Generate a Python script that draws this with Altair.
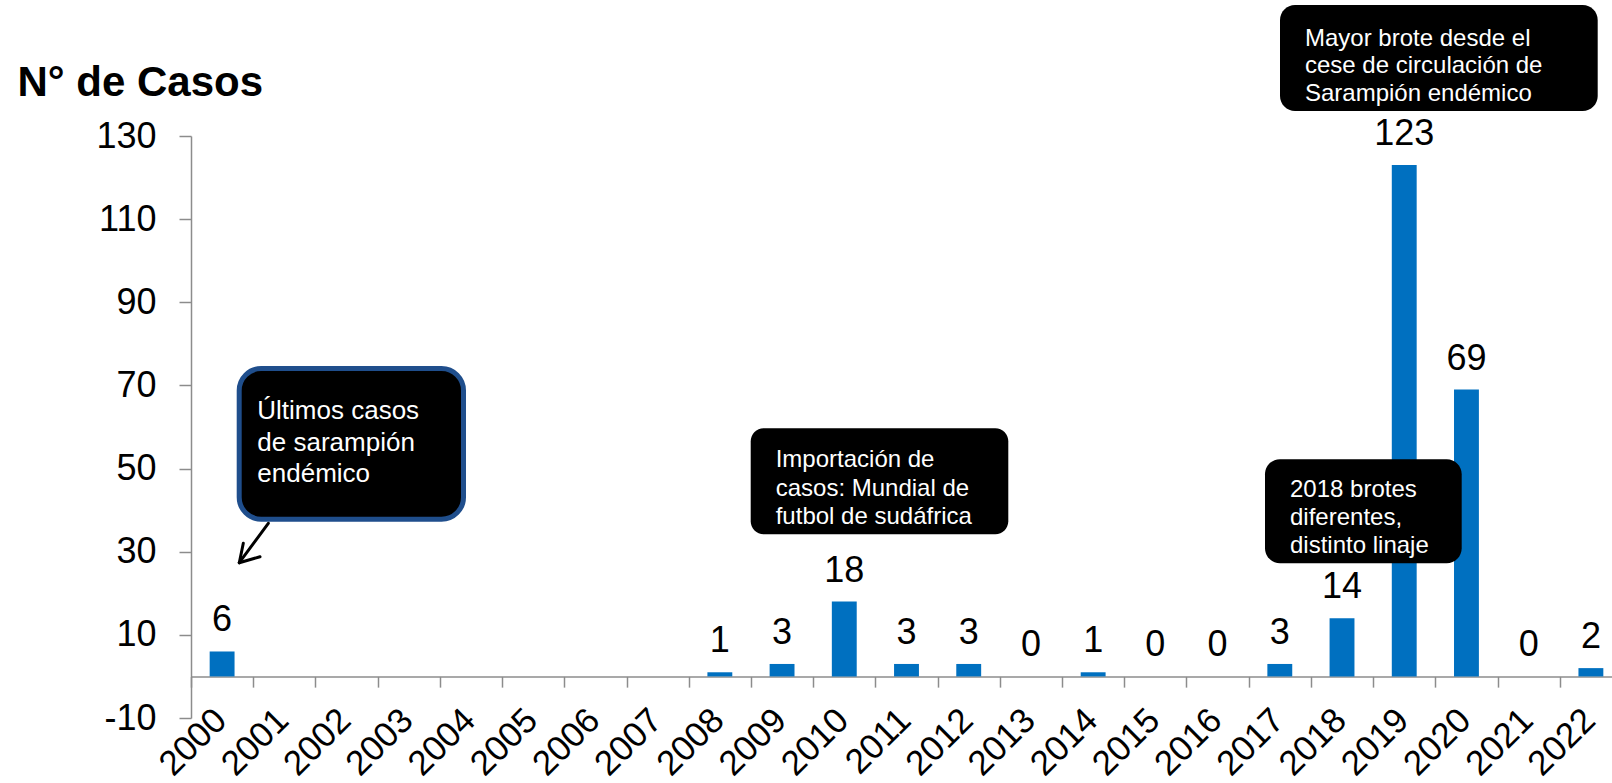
import altair as alt
import pandas as pd

# ---- data -------------------------------------------------------------
years = ["2000", "2001", "2002", "2003", "2004", "2005", "2006", "2007",
         "2008", "2009", "2010", "2011", "2012", "2013", "2014", "2015",
         "2016", "2017", "2018", "2019", "2020", "2021", "2022"]
# no reported value for 2001-2007
cases = [6, None, None, None, None, None, None, None,
         1, 3, 18, 3, 3, 0, 1, 0,
         0, 3, 14, 123, 69, 0, 2]

y_ticks = [-10, 10, 30, 50, 70, 90, 110, 130]

note_endemic = ["Últimos casos", "de sarampión", "endémico"]
note_import = ["Importación de", "casos: Mundial de", "futbol de sudáfrica"]
note_2018 = ["2018 brotes", "diferentes,", "distinto linaje"]
note_2019 = ["Mayor brote desde el", "cese de circulación de", "Sarampión endémico"]

df = pd.DataFrame({"year": years, "cases": cases})
one_row = pd.DataFrame({"k": [0]})

# ---- style / layout ----------------------------------------------------
FONT = "Liberation Sans, Arial, Helvetica, sans-serif"
AXIS_GREY = "#8c8c8c"
BAR_BLUE = "#0070C0"
BORDER_BLUE = "#1f4e8c"

PAD_LEFT, PAD_TOP = 191, 136
PLOT_W, PLOT_H = 1421, 582
X_RANGE = 1431            # category axis runs a little past the right edge
STEP = X_RANGE / len(years)

x_enc = alt.X(
    "year:N",
    sort=years,
    scale=alt.Scale(range=[0, X_RANGE], paddingInner=0.6, paddingOuter=0.3),
    axis=alt.Axis(
        title=None,
        labelAngle=-45,
        labelAlign="right",
        labelBaseline="top",
        labelFontSize=35,
        labelColor="black",
        labelPadding=15,
        labelOverlap=False,
        tickSize=10.7,
        tickWidth=1.5,
        tickColor=AXIS_GREY,
        tickOffset=-STEP / 2,
        labelOffset=STEP / 2 - 14,
        domainColor=AXIS_GREY,
        domainWidth=1.5,
        offset=-PLOT_H * 10 / 140,   # axis line sits at zero
    ),
)

y_enc = alt.Y(
    "cases:Q",
    scale=alt.Scale(domain=[-10, 130], nice=False, zero=False),
    axis=alt.Axis(
        values=y_ticks,
        labelExpr="'' + datum.value",
        grid=False,
        labelFontSize=36,
        labelColor="black",
        labelPadding=23,
        tickSize=12,
        tickWidth=1.5,
        tickColor=AXIS_GREY,
        domainColor=AXIS_GREY,
        domainWidth=1.5,
        title="N° de Casos",
        titleAngle=0,
        titleAlign="left",
        titleBaseline="alphabetic",
        titleX=-174,
        titleY=-41,
        titleFontSize=42,
        titleFontWeight="bold",
        titleColor="black",
    ),
)

base = alt.Chart(df)

bars = base.mark_bar(color=BAR_BLUE).encode(x=x_enc, y=y_enc, y2=alt.datum(0))

value_labels = base.transform_filter("isValid(datum.cases)").mark_text(
    dy=-20, baseline="alphabetic", align="center", fontSize=36, font=FONT, color="black"
).encode(
    x=alt.X("year:N", sort=years),
    y=alt.Y("cases:Q"),
    text=alt.Text("cases:Q", format="d"),
)


def callout_box(x0, y0, x1, y1, radius, stroke=None, stroke_width=0):
    kwargs = dict(color="black", cornerRadius=radius)
    if stroke:
        kwargs.update(stroke=stroke, strokeWidth=stroke_width)
    return alt.Chart(one_row).mark_rect(**kwargs).encode(
        x=alt.value(x0), x2=alt.value(x1), y=alt.value(y0), y2=alt.value(y1)
    )


def callout_text(x, y, lines, size, line_height):
    return alt.Chart(one_row).mark_text(
        align="left", baseline="alphabetic", fontSize=size, lineHeight=line_height,
        font=FONT, color="white"
    ).encode(x=alt.value(x), y=alt.value(y), text=alt.value(lines))


def segment(x0, y0, x1, y1):
    return alt.Chart(one_row).mark_rule(color="black", strokeWidth=3, strokeCap="round").encode(
        x=alt.value(x0), y=alt.value(y0), x2=alt.value(x1), y2=alt.value(y1)
    )


layers = [
    bars,
    value_labels,
    # last endemic cases (2000)
    callout_box(48.2, 232.5, 272.5, 383.2, 22, BORDER_BLUE, 5),
    callout_text(66.3, 283, note_endemic, 26, 31.6),
    segment(77.3, 387.3, 48.3, 426.7),
    segment(48.3, 426.7, 69, 420.7),
    segment(48.3, 426.7, 52.3, 407.3),
    # imported cases (2010)
    callout_box(559.7, 292.3, 817.3, 398.3, 13),
    callout_text(584.7, 331.3, note_import, 24, 28.6),
    # 2018 outbreaks
    callout_box(1074, 323.3, 1270.7, 427.3, 15),
    callout_text(1099, 360.7, note_2018, 24, 28),
    # 2019 outbreak
    callout_box(1089, -131, 1406.7, -25, 15),
    callout_text(1114, -90.3, note_2019, 24, 27.5),
]

chart = alt.layer(*layers).properties(
    width=PLOT_W,
    height=PLOT_H,
    autosize=alt.AutoSizeParams(type="none"),
    padding={"left": PAD_LEFT, "top": PAD_TOP, "right": 0, "bottom": 783 - PAD_TOP - PLOT_H},
    background="white",
).configure_view(stroke=None).configure_axis(labelFont=FONT, titleFont=FONT)

chart.save("out.html", embed_options={"renderer": "svg", "actions": False})
